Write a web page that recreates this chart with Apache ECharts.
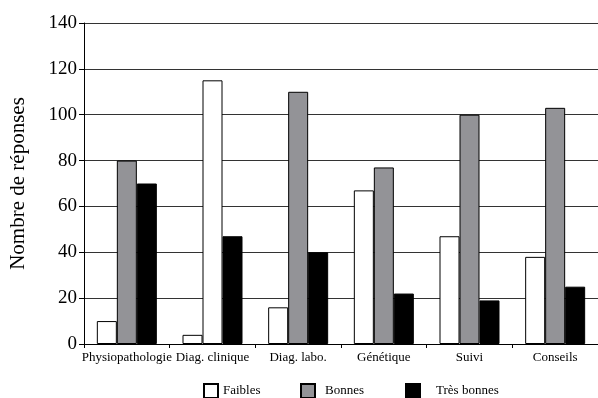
<!DOCTYPE html>
<html>
<head>
<meta charset="utf-8">
<script src="https://cdn.jsdelivr.net/npm/echarts@6/dist/echarts.min.js"></script>
<style>
  html, body { margin: 0; padding: 0; background: #fff; }
  #chart { width: 598px; height: 398px; }
</style>
</head>
<body>
<div id="chart"></div>
<script>
  var categories = ['Physiopathologie', 'Diag. clinique', 'Diag. labo.', 'Génétique', 'Suivi', 'Conseils'];
  var faibles = [10, 4, 16, 67, 47, 38];
  var bonnes = [80, 115, 110, 77, 100, 103];
  var tresBonnes = [70, 47, 40, 22, 19, 25];
  var yTicks = [0, 20, 40, 60, 80, 100, 120, 140];

  var serif = "'Liberation Serif', 'DejaVu Serif', serif";

  // in the source figure the 'Bonnes' bar of Diag. clinique is drawn white
  var bonnesData = bonnes.map(function (v, i) {
    if (i === 1) return { value: v, itemStyle: { color: '#fff' } };
    return v;
  });

  var myChart = echarts.init(document.getElementById('chart'));

  var legendBase = {
    top: 383,
    padding: 0,
    itemWidth: 14,
    itemHeight: 14,
    icon: 'rect',
    textStyle: { fontFamily: serif, fontSize: 13, color: '#000' }
  };

  var opt = {
    animation: false,
    backgroundColor: '#fff',
    grid: {
      left: 82,
      top: 23,
      width: 524,
      height: 321
    },
    legend: [
      echarts.util.merge({ data: ['Faibles'], left: 203 }, legendBase),
      echarts.util.merge({ data: ['Bonnes'], left: 300, textStyle: { padding: [0, 0, 0, 5] } }, legendBase),
      echarts.util.merge({ data: ['Très bonnes'], left: 405, textStyle: { padding: [0, 0, 0, 11] } }, legendBase)
    ],
    xAxis: {
      type: 'category',
      data: categories,
      axisLine: { lineStyle: { color: '#000', width: 1 } },
      axisTick: { show: true, length: 4, lineStyle: { color: '#000' } },
      axisLabel: {
        interval: 0,
        margin: 7,
        color: '#000',
        fontFamily: serif,
        fontSize: 13
      }
    },
    yAxis: {
      type: 'value',
      min: yTicks[0],
      max: yTicks[yTicks.length - 1],
      interval: 20,
      name: 'Nombre de réponses',
      nameLocation: 'middle',
      nameGap: 55,
      nameTextStyle: { fontFamily: serif, fontSize: 21, color: '#000' },
      axisLine: { show: true, lineStyle: { color: '#000', width: 1 } },
      axisTick: { show: true, length: 5, lineStyle: { color: '#000' } },
      axisLabel: {
        margin: 7,
        color: '#000',
        fontFamily: serif,
        fontSize: 19
      },
      splitLine: { show: true, lineStyle: { color: '#333', width: 1 } }
    },
    series: [
      {
        name: 'Faibles',
        type: 'bar',
        barWidth: 20,
        barGap: '0%',
        data: faibles,
        itemStyle: { color: '#fff', borderColor: '#000', borderWidth: 1 }
      },
      {
        name: 'Bonnes',
        type: 'bar',
        barWidth: 20,
        barGap: '0%',
        data: bonnesData,
        itemStyle: { color: '#939397', borderColor: '#000', borderWidth: 1 }
      },
      {
        name: 'Très bonnes',
        type: 'bar',
        barWidth: 20,
        barGap: '0%',
        data: tresBonnes,
        itemStyle: { color: '#000', borderColor: '#000', borderWidth: 1 }
      }
    ]
  };

  myChart.setOption(opt);
</script>
</body>
</html>
